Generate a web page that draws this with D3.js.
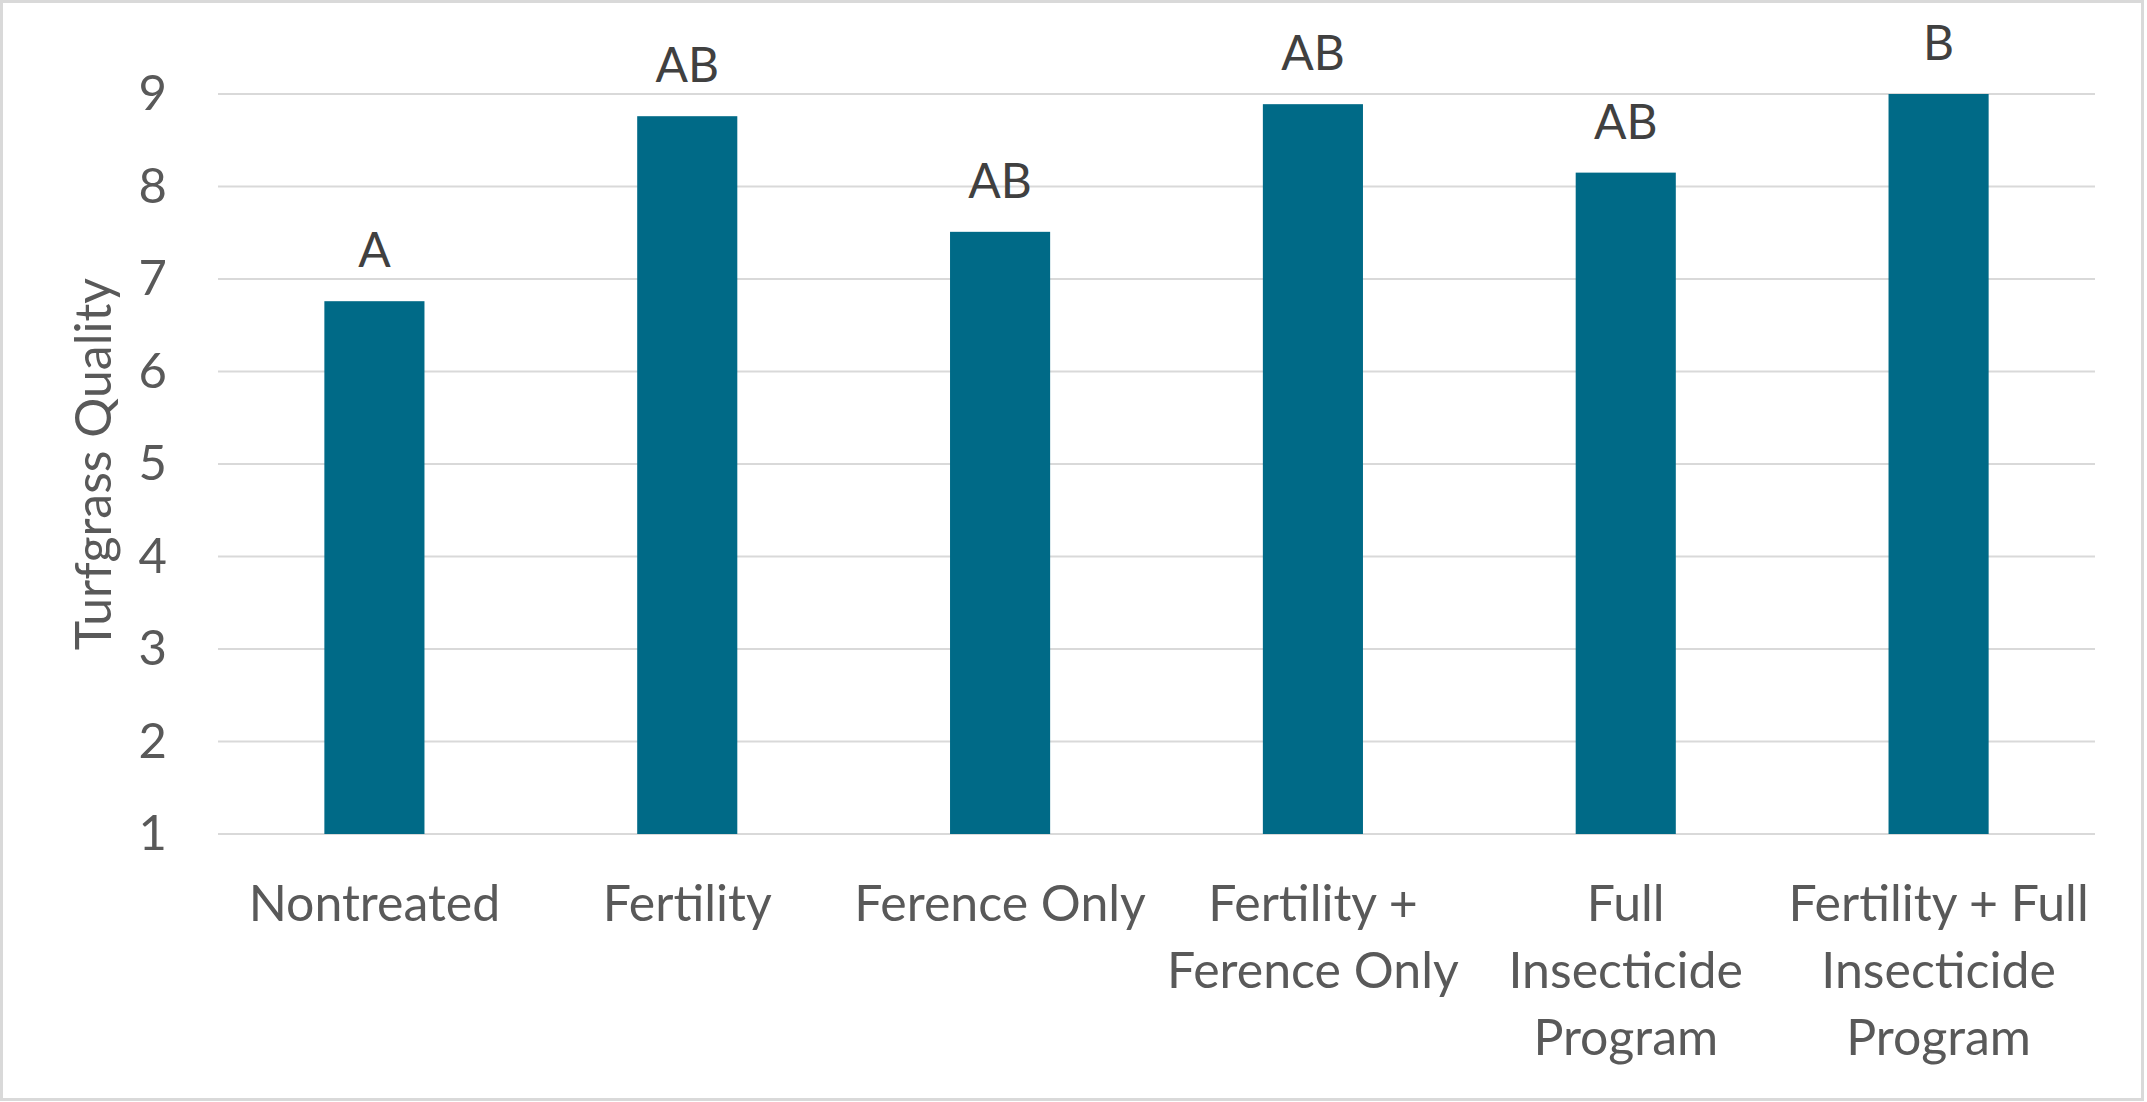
<!DOCTYPE html>
<html>
<head>
<meta charset="utf-8">
<script src="https://cdn.jsdelivr.net/npm/d3@7"></script>
<style>
  body { margin: 0; background: #fff; }
  text { font-family: Lato, "Open Sans", sans-serif; }
</style>
</head>
<body>
<svg id="plot"></svg>
<script>
var width = 2147;
var height = 1102;

// data
var categories = ["Nontreated", "Fertility", "Ference Only", "Fertility + Ference Only",
    "Full Insecticide Program", "Fertility + Full Insecticide Program"];
var labelLines = [
    ["Nontreated"],
    ["Fertility"],
    ["Ference Only"],
    ["Fertility +", "Ference Only"],
    ["Full", "Insecticide", "Program"],
    ["Fertility + Full", "Insecticide", "Program"]
];
var quality = [6.76, 8.76, 7.51, 8.89, 8.15, 9.0];
var letters = ["A", "AB", "AB", "AB", "AB", "B"];
var yTicks = [1, 2, 3, 4, 5, 6, 7, 8, 9];

var margin = {left: 218, right: 52, top: 94, bottom: 268};

var svg = d3.select("#plot")
    .attr("width", width)
    .attr("height", height);

svg.append("rect")
    .attr("x", 1.5)
    .attr("y", 1.5)
    .attr("width", width - 6)
    .attr("height", height - 4)
    .attr("fill", "#fff")
    .attr("stroke", "#d9d9d9")
    .attr("stroke-width", 3);

var xScale = d3.scaleBand()
    .domain(categories)
    .range([margin.left, width - margin.right])
    .paddingInner(0.68)
    .paddingOuter(0.34);

var yScale = d3.scaleLinear()
    .domain([1, 9])
    .range([height - margin.bottom, margin.top]);

// gridlines
svg.append("g")
    .attr("id", "grid")
    .selectAll("line")
    .data(yTicks)
    .enter()
    .append("line")
    .attr("x1", margin.left)
    .attr("x2", width - margin.right)
    .attr("y1", function (d) { return yScale(d); })
    .attr("y2", function (d) { return yScale(d); })
    .attr("stroke", "#d9d9d9")
    .attr("stroke-width", 2);

// y axis labels
var yAxis = svg.append("g")
    .attr("id", "y-axis")
    .attr("transform", "translate(" + (margin.left - 51) + ",0)")
    .call(d3.axisLeft(yScale).tickValues(yTicks).tickSize(0).tickPadding(0).tickFormat(d3.format("d")));
yAxis.select(".domain").remove();
yAxis.selectAll("text")
    .attr("font-size", 49)
    .attr("fill", "#595959")
    .attr("font-family", "Lato, sans-serif");

svg.append("text")
    .attr("class", "unit")
    .attr("text-anchor", "middle")
    .attr("transform", "translate(93," + yScale(5) + ") rotate(-90)")
    .attr("dy", "0.35em")
    .attr("font-size", 50)
    .attr("fill", "#595959")
    .text("Turfgrass Quality");

// bars
svg.append("g")
    .attr("id", "bars")
    .selectAll("rect")
    .data(quality)
    .enter()
    .append("rect")
    .attr("x", function (d, i) { return xScale(categories[i]); })
    .attr("y", function (d) { return yScale(d); })
    .attr("width", xScale.bandwidth())
    .attr("height", function (d) { return yScale(1) - yScale(d); })
    .attr("fill", "#006a87");

// significance letters
svg.append("g")
    .attr("id", "letters")
    .selectAll("text")
    .data(letters)
    .enter()
    .append("text")
    .attr("x", function (d, i) { return xScale(categories[i]) + xScale.bandwidth() / 2; })
    .attr("y", function (d, i) { return yScale(quality[i]) - 34; })
    .attr("text-anchor", "middle")
    .attr("font-size", 48)
    .attr("fill", "#404040")
    .text(function (d) { return d; });

// category labels
var xLabels = svg.append("g")
    .attr("id", "x-axis")
    .selectAll("text")
    .data(labelLines)
    .enter()
    .append("text")
    .attr("text-anchor", "middle")
    .attr("font-size", 50)
    .attr("fill", "#595959");

xLabels.selectAll("tspan")
    .data(function (d, i) { return d.map(function (s) { return {s: s, i: i}; }); })
    .enter()
    .append("tspan")
    .attr("x", function (d) { return xScale(categories[d.i]) + xScale.bandwidth() / 2; })
    .attr("y", function (d, j) { return 921 + j * 67; })
    .text(function (d) { return d.s; });
</script>
</body>
</html>
